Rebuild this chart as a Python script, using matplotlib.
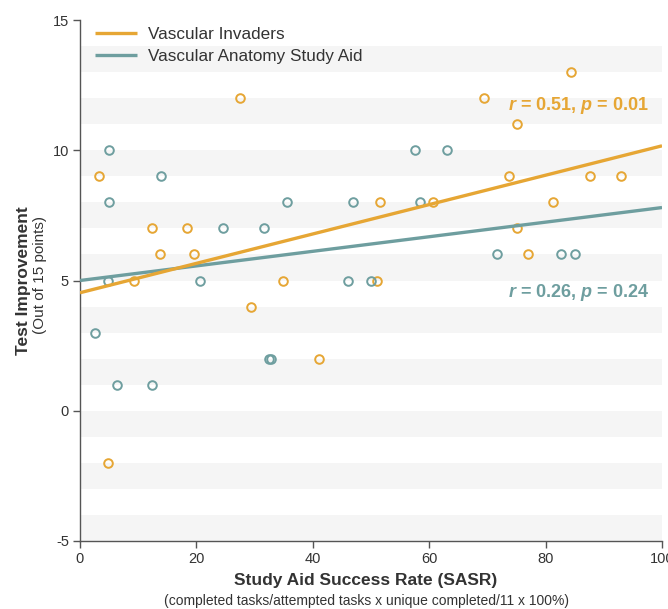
import matplotlib
matplotlib.use("Agg")
import matplotlib.pyplot as plt
import numpy as np

plt.rcParams['font.family'] = ['Liberation Sans', 'DejaVu Sans']
plt.rcParams['mathtext.fontset'] = 'custom'
plt.rcParams['mathtext.bfit'] = 'Liberation Sans:italic:bold'
plt.rcParams['mathtext.it'] = 'Liberation Sans:italic'
plt.rcParams['mathtext.rm'] = 'Liberation Sans'
plt.rcParams['mathtext.bf'] = 'Liberation Sans:bold'
plt.rcParams['axes.unicode_minus'] = False

# ---- data ----
series_names = ["Vascular Invaders", "Vascular Anatomy Study Aid"]

vi_x = [3.3, 27.5, 84.4, 69.5, 75.0, 73.7, 87.7, 92.9, 51.6, 12.3, 18.3, 13.8,
        19.6, 9.3, 34.8, 51.1, 29.3, 41.0, 60.7, 81.3, 75.0, 77.0, 4.8]
vi_y = [9, 12, 13, 12, 11, 9, 9, 9, 8, 7, 7, 6,
        6, 5, 5, 5, 4, 2, 8, 8, 7, 6, -2]

sa_x = [4.9, 13.9, 57.5, 63.0, 4.9, 35.5, 46.9, 24.5, 31.7, 4.8, 20.7, 46.1,
        50.0, 2.5, 32.5, 32.8, 6.4, 12.3, 58.5, 71.6, 82.6, 85.1]
sa_y = [10, 9, 10, 10, 8, 8, 8, 7, 7, 5, 5, 5,
        5, 3, 2, 2, 1, 1, 8, 6, 6, 6]

# fitted lines (intercept, slope)
vi_fit = (4.53, 0.0564)
sa_fit = (5.0, 0.028)

vi_stats = "$\\boldsymbol{r}$ = 0.51, $\\boldsymbol{p}$ = 0.01"
sa_stats = "$\\boldsymbol{r}$ = 0.26, $\\boldsymbol{p}$ = 0.24"

xticks = [0, 20, 40, 60, 80, 100]
yticks = [-5, 0, 5, 10, 15]

# ---- style ----
ORANGE = "#E6A634"
TEAL = "#6E9E9F"
W, H = 668, 609

fig = plt.figure(figsize=(W / 100, H / 100), dpi=100)
ax = fig.add_axes([80 / W, (H - 541) / H, (662 - 80) / W, (541 - 20) / H])

for k in range(-5, 15, 2):
    ax.axhspan(k, k + 1, color="#f5f5f5", lw=0, zorder=0)

ax.plot(vi_x, vi_y, 'o', mfc='none', mec=ORANGE, ms=6.2, mew=1.4, zorder=3)
ax.plot(sa_x, sa_y, 'o', mfc='none', mec=TEAL, ms=6.2, mew=1.4, zorder=3)

xx = np.array([0, 100])
ax.plot(xx, sa_fit[0] + sa_fit[1] * xx, color=TEAL, lw=2.4, zorder=4,
        label=series_names[1], solid_capstyle='butt')
ax.plot(xx, vi_fit[0] + vi_fit[1] * xx, color=ORANGE, lw=2.4, zorder=5,
        label=series_names[0], solid_capstyle='butt')

ax.text(73.5, 11.7, vi_stats, color=ORANGE, fontsize=13, fontweight='bold',
        ha='left', va='center', zorder=6)
ax.text(73.5, 4.54, sa_stats, color=TEAL, fontsize=13, fontweight='bold',
        ha='left', va='center', zorder=6)

ax.set_xlim(0, 100)
ax.set_ylim(-5, 15)
ax.set_xticks(xticks)
ax.set_yticks(yticks)
for s in ['top', 'right']:
    ax.spines[s].set_visible(False)
for s in ['left', 'bottom']:
    ax.spines[s].set_color('#555555')
    ax.spines[s].set_linewidth(1.0)
ax.tick_params(direction='out', length=5, width=1, color='#555555',
               labelcolor='#333333', labelsize=10.5, pad=3)

h, l = ax.get_legend_handles_labels()
leg = ax.legend(h[::-1], l[::-1], loc='upper left', frameon=False,
                fontsize=12.3, handlelength=2.5, handletextpad=0.65,
                labelspacing=0.4, borderaxespad=0.3,
                bbox_to_anchor=(0.0045, 1.009))
for t in leg.get_texts():
    t.set_color('#333333')

fig.text(366 / W, 1 - 581 / H, "Study Aid Success Rate (SASR)", fontsize=12.5,
         fontweight='bold', color='#333333', ha='center', va='center')
fig.text(366 / W, 1 - 601 / H,
         "(completed tasks/attempted tasks x unique completed/11 x 100%)",
         fontsize=10, color='#333333', ha='center', va='center')
fig.text(24 / W, 1 - 281 / H, "Test Improvement", fontsize=12.5,
         fontweight='bold', color='#333333', ha='center', va='center', rotation=90)
fig.text(40 / W, 1 - 275 / H, "(Out of 15 points)", fontsize=11,
         color='#333333', ha='center', va='center', rotation=90)

fig.savefig("out.png", dpi=100)
